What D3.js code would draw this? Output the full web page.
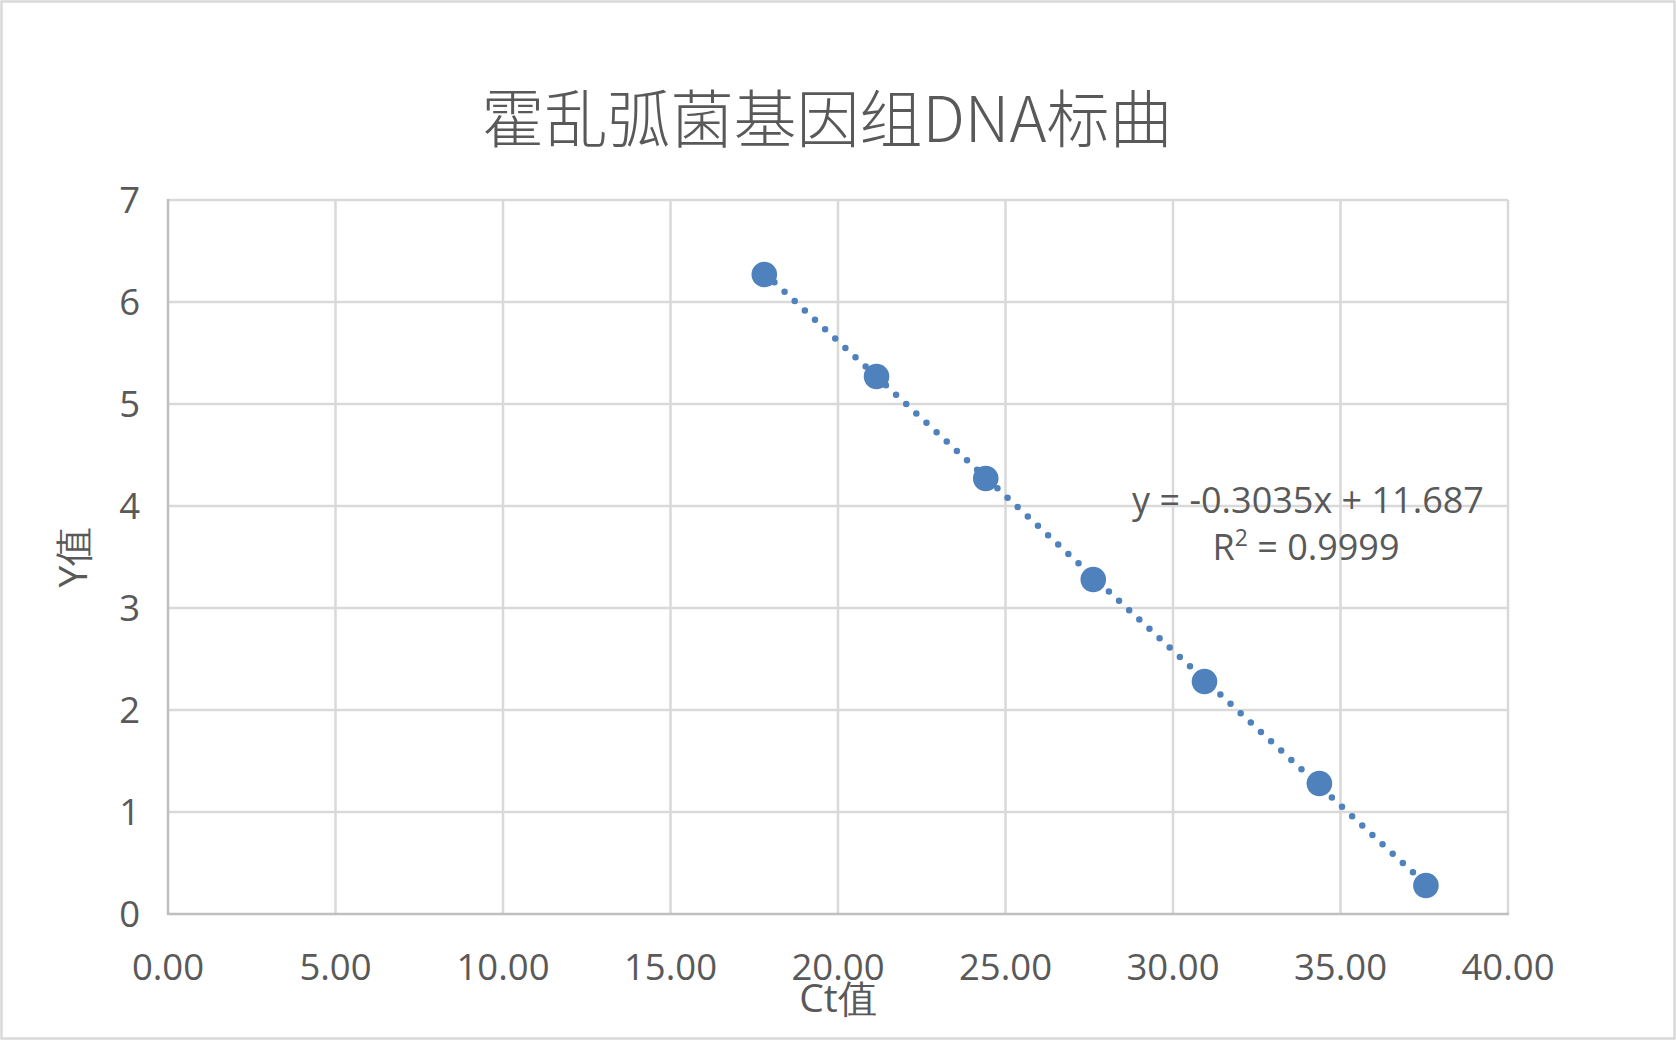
<!DOCTYPE html>
<html>
<head>
<meta charset="utf-8">
<style>
  body { margin: 0; background: #fff; }
  svg { display: block; }
  text { fill: #595959; font-family: "Open Sans", "Noto Sans", sans-serif; }
</style>
</head>
<body>
<svg width="1676" height="1040"></svg>
<script src="https://d3js.org/d3.v7.min.js"></script>
<script>

// data
var ctValues = [17.80, 21.15, 24.41, 27.62, 30.94, 34.37, 37.55];
var yValues  = [6.27, 5.27, 4.27, 3.28, 2.28, 1.28, 0.28];
var xTicks = [0, 5, 10, 15, 20, 25, 30, 35, 40];
var yTicks = [0, 1, 2, 3, 4, 5, 6, 7];
var slope = -0.3035, intercept = 11.687;
var eqLabel = "y = -0.3035x + 11.687";
var r2Label = "0.9999";
var titleText = "霍乱弧菌基因组DNA标曲";

var svg = d3.select("svg"),
    width = +svg.attr("width"),
    height = +svg.attr("height");

var plotLeft = 168, plotRight = 1508, plotTop = 200, plotBottom = 914;

var x = d3.scaleLinear().domain([0, 40]).range([plotLeft, plotRight]);
var y = d3.scaleLinear().domain([0, 7]).range([plotBottom, plotTop]);

// outer chart border
svg.append("rect")
    .attr("x", 1.5).attr("y", 1.5)
    .attr("width", width - 3).attr("height", height - 3)
    .attr("fill", "#fff")
    .attr("stroke", "#d9d9d9")
    .attr("stroke-width", 2.5);

// grid
svg.selectAll(".hgrid").data(yTicks.filter(function(d){ return d > 0; }))
  .enter().append("line")
    .attr("x1", plotLeft).attr("x2", plotRight)
    .attr("y1", function(d){ return y(d); })
    .attr("y2", function(d){ return y(d); })
    .attr("stroke", "#d9d9d9").attr("stroke-width", 2.5);

svg.selectAll(".vgrid").data(xTicks.filter(function(d){ return d > 0; }))
  .enter().append("line")
    .attr("y1", plotTop).attr("y2", plotBottom)
    .attr("x1", function(d){ return x(d); })
    .attr("x2", function(d){ return x(d); })
    .attr("stroke", "#d9d9d9").attr("stroke-width", 2.5);

// axes lines
svg.append("line")
    .attr("x1", plotLeft).attr("x2", plotLeft).attr("y1", plotTop - 1).attr("y2", plotBottom + 1)
    .attr("stroke", "#bfbfbf").attr("stroke-width", 2.5);
svg.append("line")
    .attr("x1", plotLeft - 1).attr("x2", plotRight + 1).attr("y1", plotBottom).attr("y2", plotBottom)
    .attr("stroke", "#bfbfbf").attr("stroke-width", 2.5);

// tick labels
svg.selectAll(".ylab").data(yTicks)
  .enter().append("text")
    .attr("x", 140)
    .attr("y", function(d){ return y(d) + 13; })
    .attr("text-anchor", "end")
    .style("font-size", "36.5px")
    .text(function(d){ return d; });

svg.selectAll(".xlab").data(xTicks)
  .enter().append("text")
    .attr("x", function(d){ return x(d); })
    .attr("y", 980)
    .attr("text-anchor", "middle")
    .style("font-size", "36.5px")
    .text(function(d){ return d3.format(".2f")(d); });

// axis titles
svg.append("text")
    .attr("x", (plotLeft + plotRight) / 2)
    .attr("y", 1012)
    .attr("text-anchor", "middle")
    .style("font-size", "39px")
    .text("Ct值");

svg.append("text")
    .attr("transform", "translate(87,557) rotate(-90)")
    .attr("text-anchor", "middle")
    .style("font-size", "39px")
    .text("Y值");

// title
svg.append("text")
    .attr("x", 827)
    .attr("y", 142)
    .attr("text-anchor", "middle")
    .style("font-size", "63px")
    .style("font-family", "'Noto Sans CJK SC', sans-serif")
    .style("font-weight", 300)
    .text(titleText);

// trendline
var xmin = d3.min(ctValues), xmax = d3.max(ctValues);
svg.append("line")
    .attr("x1", x(xmin)).attr("y1", y(slope * xmin + intercept))
    .attr("x2", x(xmax)).attr("y2", y(slope * xmax + intercept))
    .attr("stroke", "#4f81bd")
    .attr("stroke-width", 6.5)
    .attr("stroke-linecap", "round")
    .attr("stroke-dasharray", "0 13.8");

// points
svg.selectAll(".pt").data(ctValues)
  .enter().append("circle")
    .attr("cx", function(d){ return x(d); })
    .attr("cy", function(d, i){ return y(yValues[i]); })
    .attr("r", 12.8)
    .style("fill", "#4f81bd");

// equation label
svg.append("text")
    .attr("x", 1308).attr("y", 513)
    .attr("text-anchor", "middle")
    .style("font-size", "36px")
    .text(eqLabel);

var r2 = svg.append("text")
    .attr("x", 1306).attr("y", 560)
    .attr("text-anchor", "middle")
    .style("font-size", "36px");
r2.append("tspan").text("R");
r2.append("tspan").attr("dy", -14).style("font-size", "23px").text("2");
r2.append("tspan").attr("dy", 14).text(" = " + r2Label);

</script>
</body>
</html>
